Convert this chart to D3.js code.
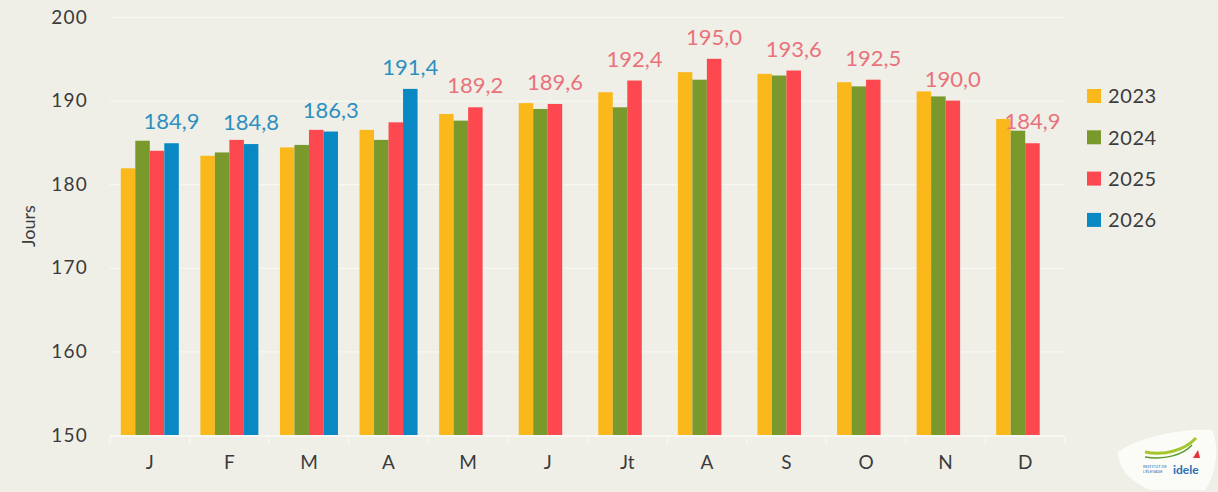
<!DOCTYPE html>
<html>
<head>
<meta charset="utf-8">
<script src="https://cdn.jsdelivr.net/npm/d3@7"></script>
<style>
  html, body { margin: 0; padding: 0; background: #efefe8; }
  svg { display: block; font-family: Lato, "Open Sans", sans-serif; }
</style>
</head>
<body>
<svg id="chart" width="1218" height="492"></svg>
<script>
const months = ["J", "F", "M", "A", "M", "J", "Jt", "A", "S", "O", "N", "D"];
const years = ["2023", "2024", "2025", "2026"];
const v2023 = [181.9, 183.4, 184.4, 186.5, 188.4, 189.7, 191.0, 193.4, 193.2, 192.2, 191.1, 187.8];
const v2024 = [185.2, 183.8, 184.7, 185.3, 187.6, 189.0, 189.2, 192.5, 193.0, 191.7, 190.5, 186.4];
const v2025 = [184.0, 185.3, 186.5, 187.4, 189.2, 189.6, 192.4, 195.0, 193.6, 192.5, 190.0, 184.9];
const v2026 = [184.9, 184.8, 186.3, 191.4, null, null, null, null, null, null, null, null];
const yTicks = [150, 160, 170, 180, 190, 200];
const colors = ["#fbb81b", "#7a992d", "#fc484e", "#0a88c3"];
const labelColors = { "2025": "#e9727b", "2026": "#2d8fc0" };

const series = [v2023, v2024, v2025, v2026];
const svg = d3.select("#chart");

const pLeft = 110, pRight = 1065, pTop = 17, pBottom = 435;

const y = d3.scaleLinear().domain([150, 200]).range([pBottom, pTop]);
const p = 0.271;
const x0 = d3.scaleBand().domain(d3.range(months.length)).range([pLeft, pRight])
  .paddingInner(p).paddingOuter(p / 2);
const x1 = d3.scaleBand().domain(years).range([0, x0.bandwidth()]).padding(0);

// gridlines
svg.append("g").selectAll("line").data(yTicks).join("line")
  .attr("x1", pLeft).attr("x2", pRight)
  .attr("y1", d => y(d) + 0.5).attr("y2", d => y(d) + 0.5)
  .attr("stroke", "#f8f8f3").attr("stroke-width", 1.2);

// x tick separators
const seps = d3.range(months.length + 1).map(i => pLeft + i * x0.step());
svg.append("g").selectAll("line").data(seps).join("line")
  .attr("x1", d => d).attr("x2", d => d)
  .attr("y1", pBottom + 1).attr("y2", pBottom + 9)
  .attr("stroke", "#f8f8f3").attr("stroke-width", 1.2);
svg.append("line").attr("x1", pLeft).attr("x2", pRight)
  .attr("y1", pBottom + 1.5).attr("y2", pBottom + 1.5)
  .attr("stroke", "#f8f8f3").attr("stroke-width", 1.2);

// bars
const barData = [];
months.forEach((m, i) => {
  years.forEach((yr, k) => {
    const v = series[k][i];
    if (v != null) barData.push({ i, yr, k, v });
  });
});
svg.append("g").selectAll("rect").data(barData).join("rect")
  .attr("x", d => x0(d.i) + x1(d.yr))
  .attr("y", d => y(d.v))
  .attr("width", x1.bandwidth())
  .attr("height", d => y(150) - y(d.v))
  .attr("fill", d => colors[d.k]);

// value labels (latest year per month)
const labData = months.map((m, i) => {
  let k = series[3][i] != null ? 3 : 2;
  return { i, k, yr: years[k], v: series[k][i] };
});
svg.append("g").selectAll("text").data(labData).join("text")
  .attr("x", d => x0(d.i) + x1(d.yr) + x1.bandwidth() / 2)
  .attr("y", d => y(d.v) - 14)
  .attr("text-anchor", "middle")
  .attr("font-size", 22)
  .attr("fill", d => labelColors[d.yr])
  .text(d => d3.format(".1f")(d.v).replace(".", ","));

// y axis labels
svg.append("g").selectAll("text").data(yTicks).join("text")
  .attr("x", 88).attr("y", d => y(d))
  .attr("dy", "0.35em")
  .attr("text-anchor", "end")
  .attr("font-size", 19)
  .attr("letter-spacing", 1.2)
  .attr("fill", "#3b3b3b")
  .text(d => d);

// x axis labels
svg.append("g").selectAll("text").data(months).join("text")
  .attr("x", (d, i) => x0(i) + x0.bandwidth() / 2)
  .attr("y", 462).attr("dy", "0.35em")
  .attr("text-anchor", "middle")
  .attr("font-size", 19)
  .attr("fill", "#3b3b3b")
  .text(d => d);

// y axis title
svg.append("text")
  .attr("transform", "translate(35,226) rotate(-90)")
  .attr("text-anchor", "middle")
  .attr("font-size", 18)
  .attr("fill", "#3b3b3b")
  .text("Jours");

// legend
const lg = svg.append("g").attr("transform", "translate(1087,96)");
const li = lg.selectAll("g").data(years).join("g")
  .attr("transform", (d, i) => `translate(0,${i * 41.3})`);
li.append("rect").attr("x", 0).attr("y", -7).attr("width", 14).attr("height", 14)
  .attr("fill", (d, i) => colors[i]);
li.append("text").attr("x", 21).attr("y", 0).attr("dy", "0.36em")
  .attr("font-size", 20).attr("letter-spacing", 0.6).attr("fill", "#3b3b3b").text(d => d);

// logo
const logo = svg.append("g");
logo.append("path")
  .attr("d", "M1118,452 C1140,436 1185,428 1212,430 C1220,445 1216,475 1205,490 L1150,490 C1132,482 1118,470 1118,452 Z")
  .attr("fill", "#fbfbf8");
logo.append("path").attr("d", "M1145,452 C1165,456 1185,450 1196,438")
  .attr("fill", "none").attr("stroke", "#a6c72a").attr("stroke-width", 3);
logo.append("path").attr("d", "M1145,457 C1165,460 1183,455 1192,445")
  .attr("fill", "none").attr("stroke", "#5c9a2c").attr("stroke-width", 1.5);
logo.append("text").attr("x", 1173).attr("y", 474).attr("font-size", 12)
  .attr("font-weight", "bold").attr("fill", "#2a6fb7").text("idele");
logo.append("text").attr("x", 1143).attr("y", 468).attr("font-size", 4)
  .attr("fill", "#2a6fb7").text("INSTITUT DE");
logo.append("text").attr("x", 1143).attr("y", 473).attr("font-size", 4)
  .attr("fill", "#2a6fb7").text("L'ÉLEVAGE");
logo.append("path").attr("d", "M1193,458 l5,-8 l2,8 z").attr("fill", "#e8303a");
</script>
</body>
</html>
